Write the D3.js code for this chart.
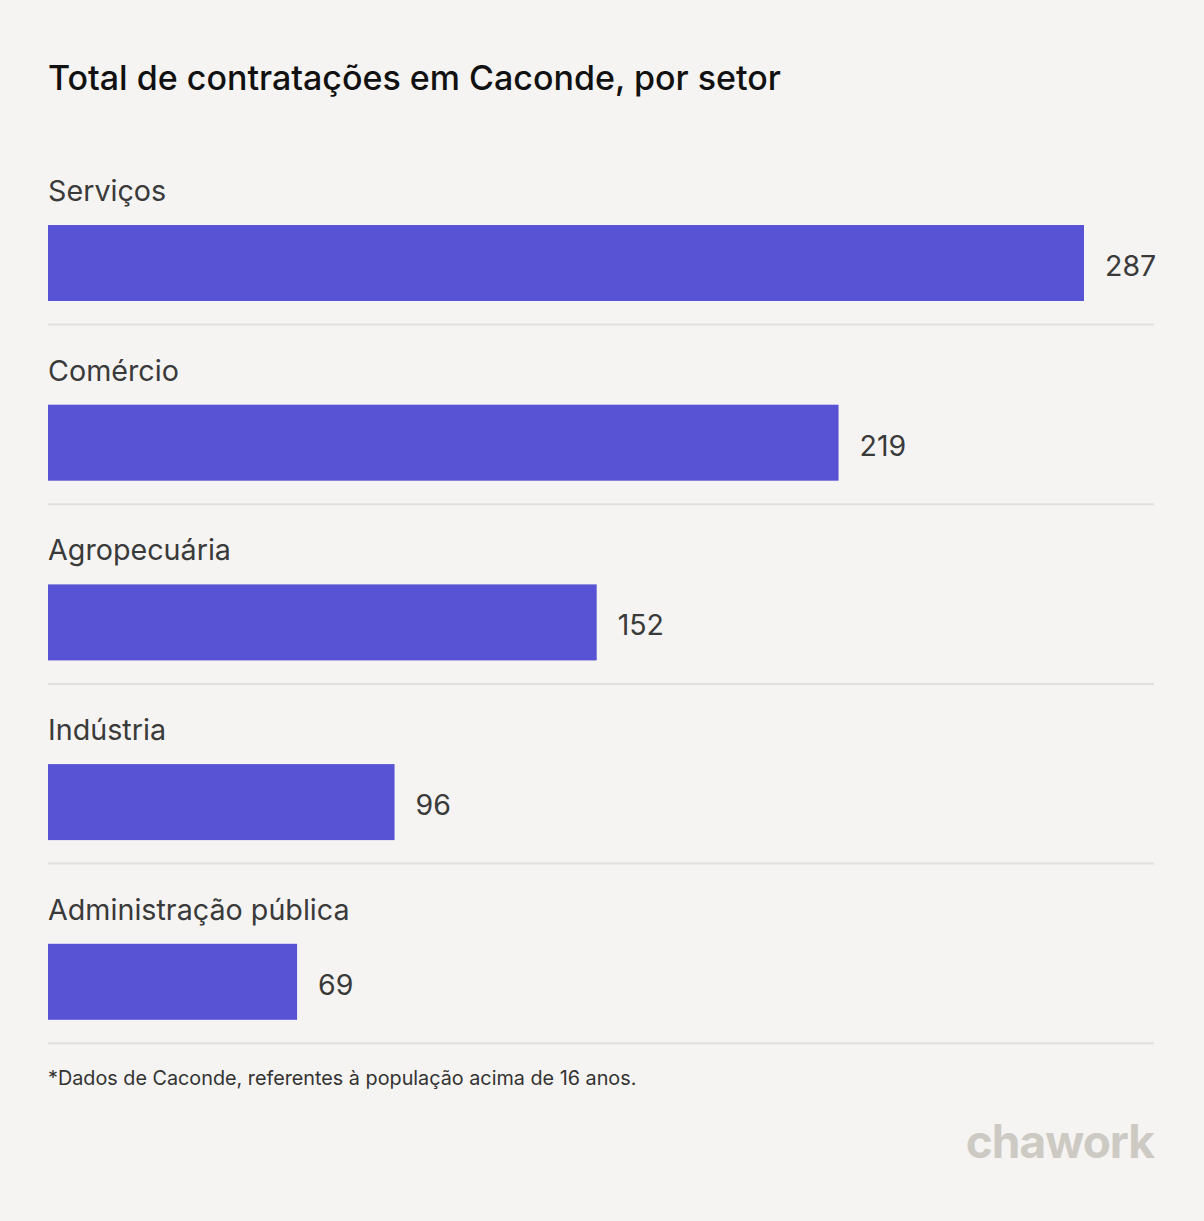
<!DOCTYPE html>
<html><head><meta charset="utf-8">
<script src="https://cdn.jsdelivr.net/npm/d3@7"></script>
<style>html,body{margin:0;padding:0;background:#f5f4f2;}</style>
</head><body>
<svg id="c" width="1204" height="1221"></svg>
<script>
const categories = ["Serviços","Comércio","Agropecuária","Indústria","Administração pública"];
const values = [287,219,152,96,69];
const title = "Total de contratações em Caconde, por setor";
const footnote = "*Dados de Caconde, referentes à população acima de 16 anos.";

const svg = d3.select("#c");
svg.append("rect").attr("width",1204).attr("height",1221).attr("fill","#f5f4f2");

const x = d3.scaleLinear().domain([0, d3.max(values)]).range([48, 1084]);
const band = d3.scaleBand().domain(categories).range([145, 1043.5]).paddingInner(0).paddingOuter(0);
const barTop = 80, barH = 76;

svg.append("text").attr("x",48).attr("y",90).text(title)
  .attr("font-family","Inter, sans-serif").attr("font-size",34).attr("font-weight",500).attr("fill","#111");

const g = svg.selectAll("g.row").data(categories).join("g").attr("class","row")
  .attr("transform", d => `translate(0,${band(d)})`);

g.append("text").attr("x",48).attr("y",56).text(d=>d)
  .attr("font-family","Inter, sans-serif").attr("font-size",28.7).attr("fill","#3a3a3a");

g.append("rect").attr("x",x(0)).attr("y",barTop)
  .attr("width",(d,i)=>x(values[i])-x(0)).attr("height",barH).attr("fill","#5852d5");

g.append("text").attr("x",(d,i)=>x(values[i])+21).attr("y",barTop+barH/2+3).attr("dy","0.35em")
  .text((d,i)=>values[i])
  .attr("font-family","Inter, sans-serif").attr("font-size",28.5).attr("fill","#3a3a3a");

g.append("line").attr("x1",48).attr("x2",1154).attr("y1",179.5).attr("y2",179.5)
  .attr("stroke","#e2e0dd").attr("stroke-width",2);

svg.append("text").attr("x",48).attr("y",1085).text(footnote)
  .attr("font-family","Inter, sans-serif").attr("font-size",19.8).attr("fill","#333");

svg.append("text").attr("x",1154).attr("y",1158).attr("text-anchor","end").text("chawork")
  .attr("font-family","Inter, sans-serif").attr("font-size",46).attr("font-weight",700)
  .attr("letter-spacing",-1).attr("fill","#cdcac4");
</script>
</body></html>
